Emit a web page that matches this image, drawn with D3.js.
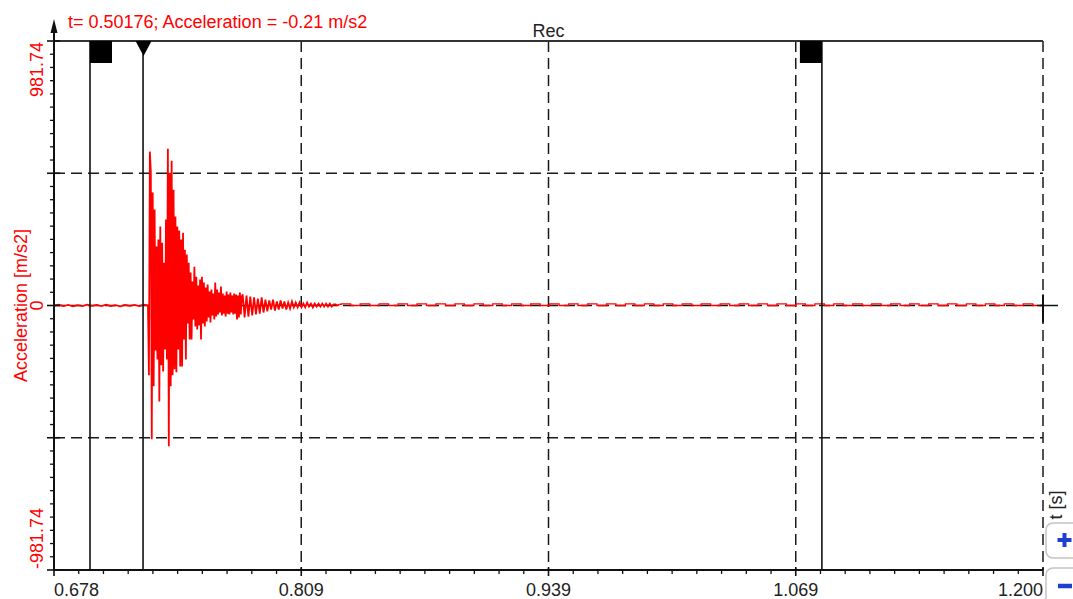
<!DOCTYPE html>
<html><head><meta charset="utf-8">
<script src="https://cdn.jsdelivr.net/npm/d3@7"></script>
<style>body{margin:0;background:#fff;} svg{display:block;font-family:Arial,"Liberation Sans",sans-serif;}</style>
</head><body>
<svg id="c" width="1073" height="599"></svg>
<script>
// ---------------- data ----------------
const chartTitle = "Rec";
const yAxisTitle = "Acceleration [m/s2]";
const xAxisTitle = "t [s]";
const cursorReadout = "t= 0.50176; Acceleration = -0.21 m/s2";
const xDomain = [0.678, 1.2];
const yDomain = [-981.74, 981.74];
const xTickValues = [0.678, 0.8085, 0.939, 1.0695, 1.2];
const xTickLabels = ["0.678", "0.809", "0.939", "1.069", "1.200"];
const yTickValues = [-981.74, -490.87, 0, 490.87, 981.74];
const yTickLabels = ["-981.74", "", "0", "", "981.74"];
const cursorTimes = [0.697, 0.725, 1.0833];
const cursorKinds = ["flagRight", "triangle", "flagLeft"];

const preStart = 0.678, preDt = 0.0025;
const preValues = [0, 3, -2, 2, -3, 1, -2, 3, -1, 2, -2, 3, -2, 1, -3, 2, -1, 2, -2, 3];

const burstStart = 0.7276, burstDt = 0.0005;
const burstValues = [0, -259, 571, 496, -496, 419, -300, 356, -167, 219,
  -200, 245, -356, 293, -222, 233, -245, 159, -163, 319,
  -200, 582, -522, 493, -300, 537, -259, 430, -237, 330,
  -248, 293, -163, 278, -226, 245, -226, 270, -126, 207,
  -200, 189, -67, 159, -126, 122, -126, 89, -52, 144,
  -78, 107, -89, 74, -74, 96, -126, 107, -67, 85,
  -78, 67, -59, 78, -44, 52, -63, 59, -37, 44,
  -52, 85, -41, 59, -33, 48, -26, 70, -37, 44,
  -30, 37, -41, 52, -30, 41, -33, 48, -26, 37,
  -33, 44, -30, 41, -52, 37, -44, 48, -33, 33];

const decayStart = 0.7776, decayDt = 0.001;
const decayValues = [41, -44, 37, -41, 33, -37, 30, -33, 26, -30, 30, -26, 22,
  -22, 19, -15, 22, -19, 15, -15, 19, -11, 15,
  -15, 11, -11, 15, -7, 11, -7, 11, -7, 7,
  -7, 11, -4, 7, -7, 7, -4, 7, -4, 7, -4, 7, -4, 7, -4, 4,
  4, 0, 4];

const tailStart = 0.8296, tailDt = 0.005;
const tailValues = [6, 0, 6, 0, 6, 0, 6, 0, 6, 0, 6, 0, 6, 0, 6, 0, 6, 0, 6, 0,
  6, 0, 6, 0, 6, 0, 6, 0, 6, 0, 6, 0, 6, 0, 6, 0, 6, 0, 6, 0,
  6, 0, 6, 0, 6, 0, 6, 0, 6, 0, 6, 0, 6, 0, 6, 0, 6, 0, 6, 0,
  6, 0, 6, 0, 6, 0, 6, 0, 6, 0, 6, 0, 6, 0];

// ---------------- layout ----------------
const plot = {left: 54, right: 1043, top: 41, bottom: 570};
const FS = 18;
const RED = "#ff0000";
const INK = "#1a1a1a";
const svg = d3.select("#c");
const x = d3.scaleLinear().domain(xDomain).range([plot.left, plot.right]);
const y = d3.scaleLinear().domain(yDomain).range([plot.bottom, plot.top]);

// grid
const gridDash = "11,6";
svg.append("g").selectAll("line").data(xTickValues.slice(1)).join("line")
  .attr("x1", d => x(d)).attr("x2", d => x(d))
  .attr("y1", y(yDomain[1])).attr("y2", y(yDomain[0]))
  .attr("stroke", INK).attr("stroke-width", 1.5).attr("stroke-dasharray", gridDash);
svg.append("g").selectAll("line").data(yTickValues.slice(1, -1)).join("line")
  .attr("x1", x(xDomain[0])).attr("x2", x(xDomain[1]))
  .attr("y1", d => y(d)).attr("y2", d => y(d))
  .attr("stroke", INK).attr("stroke-width", 1.5).attr("stroke-dasharray", gridDash);
// top border
svg.append("line").attr("x1", x(xDomain[0])).attr("x2", x(xDomain[1]))
  .attr("y1", y(yDomain[1])).attr("y2", y(yDomain[1]))
  .attr("stroke", "#333").attr("stroke-width", 2);

// signal
svg.append("clipPath").attr("id", "clip").append("rect")
  .attr("x", plot.left).attr("y", plot.top).attr("width", plot.right - plot.left).attr("height", plot.bottom - plot.top);
const pts = [];
preValues.forEach((v, i) => pts.push([preStart + i * preDt, v]));
burstValues.forEach((v, i) => pts.push([burstStart + i * burstDt, v]));
decayValues.forEach((v, i) => pts.push([decayStart + i * decayDt, v]));
const tailPts = [pts[pts.length - 1]];
tailValues.forEach((v, i) => tailPts.push([tailStart + i * tailDt, v]));
tailPts.push([xDomain[1], tailValues[tailValues.length - 1]]);
const sig = svg.append("g").attr("clip-path", "url(#clip)");
sig.append("path").datum(pts)
  .attr("d", d3.line().x(d => x(d[0])).y(d => y(d[1])))
  .attr("fill", "none").attr("stroke", RED).attr("stroke-width", 1.8).attr("stroke-linejoin", "miter");
sig.append("path").datum(tailPts)
  .attr("d", d3.line().curve(d3.curveStepAfter).x(d => x(d[0])).y(d => y(d[1])))
  .attr("fill", "none").attr("stroke", RED).attr("stroke-width", 1.3);

// cursors
const cur = svg.append("g");
cursorTimes.forEach((t, i) => {
  const cx = x(t), top = y(yDomain[1]);
  cur.append("line").attr("x1", cx).attr("x2", cx).attr("y1", top).attr("y2", y(yDomain[0]))
    .attr("stroke", "#111").attr("stroke-width", 1.6);
  const k = cursorKinds[i];
  if (k === "flagRight") {
    cur.append("rect").attr("x", cx).attr("y", top).attr("width", 22).attr("height", 22).attr("fill", "#000");
  } else if (k === "flagLeft") {
    cur.append("rect").attr("x", cx - 22).attr("y", top).attr("width", 22).attr("height", 22).attr("fill", "#000");
  } else {
    cur.append("path").attr("d", `M${cx - 7.5},${top} L${cx + 8.5},${top} L${cx + 0.5},${top + 15} Z`).attr("fill", "#000");
  }
});

// x axis
const xa = svg.append("g");
xa.append("line").attr("x1", x(xDomain[0])).attr("x2", x(xDomain[1]))
  .attr("y1", plot.bottom).attr("y2", plot.bottom).attr("stroke", "#111").attr("stroke-width", 2);
const xMinor = [];
for (let k = 0; k < xTickValues.length - 1; k++) {
  const a = xTickValues[k], b = xTickValues[k + 1];
  for (let j = 1; j < 10; j++) xMinor.push(a + (b - a) * j / 10);
}
xa.selectAll(".mn").data(xMinor).join("line")
  .attr("x1", d => x(d)).attr("x2", d => x(d)).attr("y1", plot.bottom).attr("y2", plot.bottom + 4)
  .attr("stroke", "#111").attr("stroke-width", 1.3);
xa.selectAll(".mj").data(xTickValues).join("line")
  .attr("x1", d => x(d)).attr("x2", d => x(d)).attr("y1", plot.bottom - 3).attr("y2", plot.bottom + 6)
  .attr("stroke", "#111").attr("stroke-width", 1.6);
xa.selectAll("text").data(xTickValues).join("text")
  .attr("x", d => x(d)).attr("y", 596)
  .attr("text-anchor", (d, i) => i === 0 ? "start" : (i === xTickValues.length - 1 ? "end" : "middle"))
  .attr("font-size", FS).attr("fill", "#222")
  .text((d, i) => xTickLabels[i]);

// y axis
const ya = svg.append("g");
ya.append("line").attr("x1", plot.left).attr("x2", plot.left)
  .attr("y1", plot.top).attr("y2", plot.bottom).attr("stroke", "#111").attr("stroke-width", 2);
const yMinor = [];
for (let k = 0; k < yTickValues.length - 1; k++) {
  const a = yTickValues[k], b = yTickValues[k + 1];
  for (let j = 1; j < 10; j++) yMinor.push(a + (b - a) * j / 10);
}
ya.selectAll(".mn").data(yMinor).join("line")
  .attr("x1", plot.left - 4).attr("x2", plot.left).attr("y1", d => y(d)).attr("y2", d => y(d))
  .attr("stroke", "#111").attr("stroke-width", 1.3);
ya.selectAll(".mj").data(yTickValues).join("line")
  .attr("x1", plot.left - 7).attr("x2", plot.left + 6).attr("y1", d => y(d)).attr("y2", d => y(d))
  .attr("stroke", "#111").attr("stroke-width", 1.6);
yTickValues.forEach((v, i) => {
  const lab = yTickLabels[i];
  if (!lab) return;
  const anchor = i === 0 ? "start" : (i === yTickValues.length - 1 ? "end" : "middle");
  const yy = i === 0 ? y(v) - 1 : (i === yTickValues.length - 1 ? y(v) + 1 : y(v));
  ya.append("text").attr("transform", `translate(${plot.left - 11},${yy}) rotate(-90)`)
    .attr("text-anchor", anchor).attr("font-size", FS).attr("fill", RED).text(lab);
});
ya.append("text").attr("transform", `translate(27,${y(0)}) rotate(-90)`)
  .attr("text-anchor", "middle").attr("font-size", FS).attr("fill", RED).text(yAxisTitle);
// axis arrow
ya.append("line").attr("x1", plot.left).attr("x2", plot.left).attr("y1", plot.top).attr("y2", plot.top - 10)
  .attr("stroke", "#111").attr("stroke-width", 2);
ya.append("path").attr("d", `M${plot.left - 3.5},${plot.top - 8} L${plot.left + 3.5},${plot.top - 8} L${plot.left},${plot.top - 22} Z`).attr("fill", "#111");

// end marker at right
svg.append("line").attr("x1", x(xDomain[1])).attr("x2", x(xDomain[1])).attr("y1", y(0) - 11).attr("y2", y(0) + 17)
  .attr("stroke", "#111").attr("stroke-width", 2);
svg.append("line").attr("x1", x(xDomain[1]) - 6).attr("x2", x(xDomain[1]) + 15).attr("y1", y(0)).attr("y2", y(0))
  .attr("stroke", "#111").attr("stroke-width", 1.5);

// titles
svg.append("text").attr("x", (plot.left + plot.right) / 2).attr("y", 37).attr("text-anchor", "middle")
  .attr("font-size", FS).attr("fill", "#222").text(chartTitle);
svg.append("text").attr("x", 68).attr("y", 28).attr("font-size", FS).attr("fill", RED).text(cursorReadout);
svg.append("text").attr("transform", "translate(1062,505) rotate(-90)").attr("text-anchor", "middle")
  .attr("font-size", FS).attr("fill", "#222").text(xAxisTitle);

// zoom buttons
const btn = svg.append("g");
btn.append("rect").attr("x", 1046).attr("y", 523).attr("width", 34).attr("height", 35).attr("rx", 7)
  .attr("fill", "#fff").attr("stroke", "#c4c4c4").attr("stroke-width", 1.5);
btn.append("rect").attr("x", 1046).attr("y", 568).attr("width", 34).attr("height", 40).attr("rx", 7)
  .attr("fill", "#fff").attr("stroke", "#c4c4c4").attr("stroke-width", 1.5);
btn.append("path").attr("d", "M1057.5,540 h14 M1064.5,533 v14").attr("stroke", "#1f3fd0").attr("stroke-width", 4);
btn.append("path").attr("d", "M1058,586 h14").attr("stroke", "#1f3fd0").attr("stroke-width", 4.5);
</script>
</body></html>
